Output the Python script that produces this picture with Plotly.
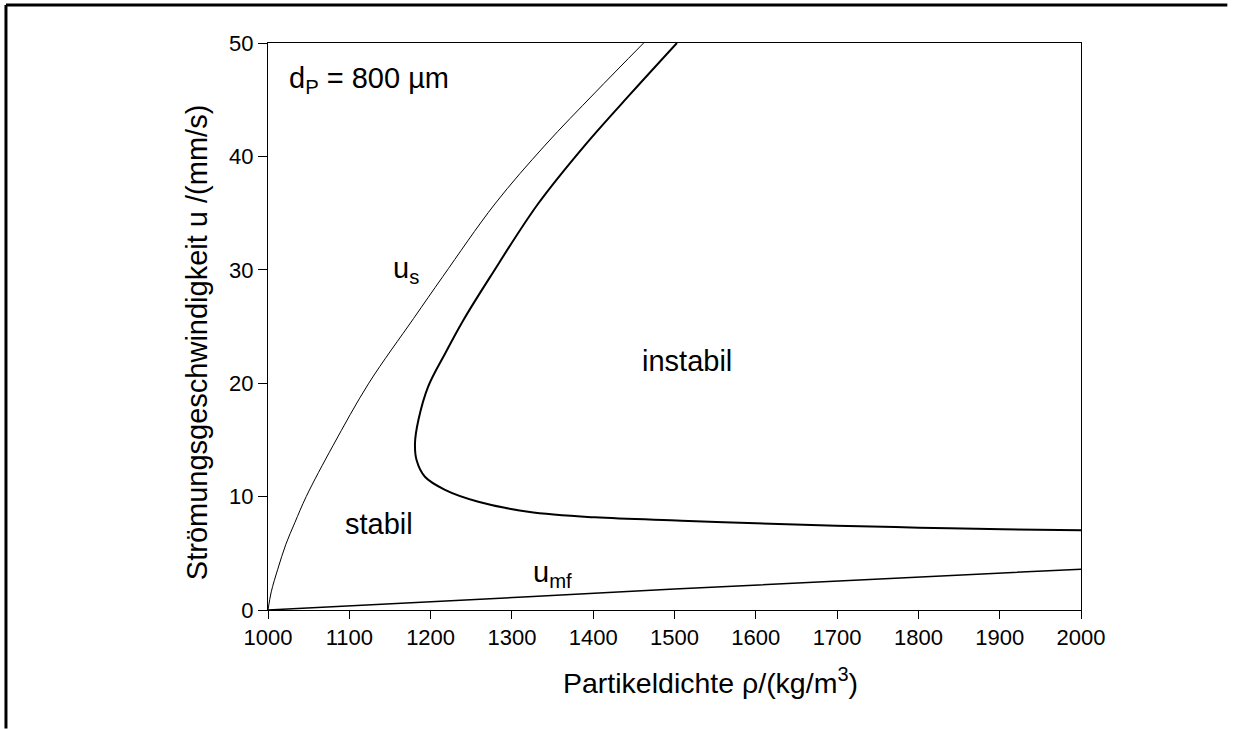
import plotly.graph_objects as go

# Schwarmgeschwindigkeit u_s über der Partikeldichte
rho_us = [1000, 1004, 1012, 1022, 1033, 1047, 1080, 1124, 1179, 1215, 1279, 1341, 1402, 1462]
u_s = [0.0, 1.6, 3.6, 5.8, 7.7, 10.0, 14.5, 20.0, 25.7, 29.4, 35.8, 41.0, 45.6, 50.0]

# Stabilitätsgrenze (rechts davon: instabil)
rho_grenze = [1503, 1447, 1390, 1332, 1273.5, 1240.6, 1217.7, 1197, 1185, 1180.8, 1182.8, 1193,
              1217.7, 1258.7, 1320, 1402, 1508.7, 1600.5, 1698.8, 1801, 1903.7, 2000]
u_grenze = [50.0, 45.6, 41.0, 35.8, 29.4, 25.6, 22.6, 19.7, 16.75, 14.7, 13.2, 11.75,
            10.6, 9.55, 8.67, 8.17, 7.88, 7.64, 7.44, 7.26, 7.11, 7.03]

# Minimale Fluidisierungsgeschwindigkeit u_mf
rho_mf = [1000, 1156, 1320, 1500, 2000]
u_mf = [0.0, 0.6, 1.17, 1.85, 3.6]

x_ticks = [1000, 1100, 1200, 1300, 1400, 1500, 1600, 1700, 1800, 1900, 2000]
y_ticks = [0, 10, 20, 30, 40, 50]

FONT = "Arial, 'Liberation Sans', sans-serif"

fig = go.Figure()
fig.add_trace(go.Scatter(x=rho_us, y=u_s, mode="lines",
                         line=dict(color="black", width=1, shape="spline", smoothing=1.0)))
fig.add_trace(go.Scatter(x=rho_grenze, y=u_grenze, mode="lines",
                         line=dict(color="black", width=2, shape="spline", smoothing=1.0)))
fig.add_trace(go.Scatter(x=rho_mf, y=u_mf, mode="lines",
                         line=dict(color="black", width=1.5)))

labels = [
    (1023, 46.7, "d<sub>P</sub> = 800 µm", "left"),
    (1170, 30.0, "u<sub>s</sub>", "center"),
    (1136, 7.6, "stabil", "center"),
    (1515, 22.0, "instabil", "center"),
    (1350, 3.2, "u<sub>mf</sub>", "center"),
]
for x, y, t, anchor in labels:
    fig.add_annotation(x=x, y=y, text=t, showarrow=False, xanchor=anchor, yanchor="middle",
                       font=dict(family=FONT, size=29, color="black"))

# Achsentitel
fig.add_annotation(xref="paper", yref="paper", x=0.5437, y=-0.125,
                   text="Partikeldichte ρ/(kg/m<sup>3</sup>)", showarrow=False,
                   xanchor="center", yanchor="middle",
                   font=dict(family=FONT, size=28.5, color="black"))
fig.add_annotation(xref="paper", yref="paper", x=-0.0873, y=0.4707,
                   text="Strömungsgeschwindigkeit u /(mm/s)", showarrow=False, textangle=-90,
                   xanchor="center", yanchor="middle",
                   font=dict(family=FONT, size=29, color="black"))

# Rahmen (linke und obere Kante)
frame = dict(color="black", width=3)
fig.add_shape(type="line", xref="paper", yref="paper", x0=-0.3223, x1=-0.3223, y0=-0.209, y1=1.067,
              line=frame, layer="above")
fig.add_shape(type="line", xref="paper", yref="paper", x0=-0.3223, x1=1.18, y0=1.067, y1=1.067,
              line=frame, layer="above")

axis_common = dict(showgrid=False, zeroline=False, showline=True, linecolor="black", linewidth=1,
                   mirror=True, ticks="outside", tickcolor="black", tickwidth=1,
                   tickfont=dict(family=FONT, size=22, color="black"))

fig.update_layout(
    width=1233, height=729,
    margin=dict(l=268, r=152, t=43, b=119),
    paper_bgcolor="white", plot_bgcolor="white",
    showlegend=False,
    xaxis=dict(range=[1000, 2000], tickvals=x_ticks, ticklen=8, **axis_common),
    yaxis=dict(range=[0, 50], tickvals=y_ticks, ticklen=9, **axis_common),
)

fig.write_html("out.html", config={"displayModeBar": False})
